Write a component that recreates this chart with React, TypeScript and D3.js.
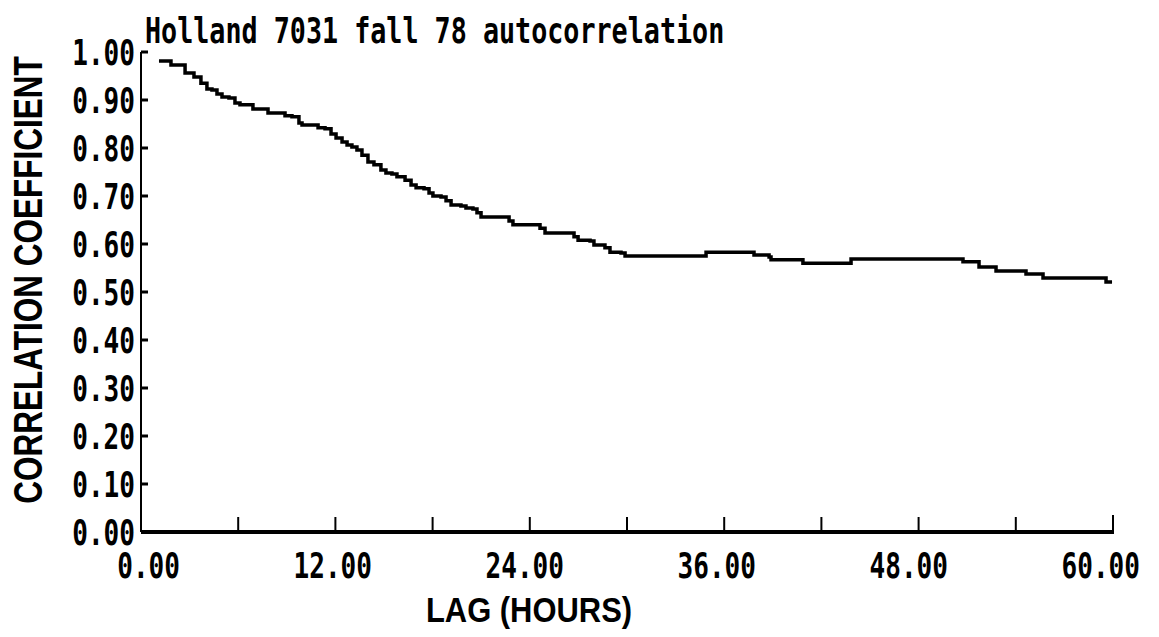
import React from "react";
import * as d3 from "d3";

const titleText = "Holland 7031 fall 78 autocorrelation";
const xAxisTitle = "LAG (HOURS)";
const yAxisTitle = "CORRELATION COEFFICIENT";

// step breakpoints of the autocorrelation curve
const lagHours = [
  1.11, 1.85, 2.72, 3.27, 3.7, 4.07, 4.38, 4.69, 5.0, 5.43, 5.8, 6.11, 6.91, 7.84,
  8.89, 9.32, 9.75, 9.94, 10.93, 11.36, 11.73, 12.04, 12.41, 12.72, 13.02, 13.33,
  13.64, 14.01, 14.38, 14.81, 15.12, 15.49, 15.8, 16.3, 16.67, 16.98, 17.47, 17.78,
  18.02, 18.52, 18.83, 19.14, 19.75, 20.06, 20.49, 20.74, 20.99, 22.72, 22.96,
  24.63, 24.94, 26.73, 26.98, 27.72, 27.96, 28.64, 28.95, 29.63, 29.88, 34.88,
  37.84, 38.77, 38.89, 40.86, 43.83, 50.74, 51.73, 52.78, 54.63, 55.68, 59.57, 59.94,
];
const correlation = [
  0.981, 0.973, 0.956, 0.948, 0.935, 0.923, 0.921, 0.9125, 0.906, 0.904, 0.894, 0.89,
  0.881, 0.873, 0.867, 0.865, 0.852, 0.848, 0.842, 0.84, 0.829, 0.821, 0.8125, 0.806,
  0.802, 0.796, 0.785, 0.771, 0.765, 0.754, 0.748, 0.746, 0.74, 0.733, 0.723, 0.717,
  0.715, 0.706, 0.7, 0.698, 0.69, 0.681, 0.679, 0.675, 0.673, 0.665, 0.656, 0.648,
  0.64, 0.633, 0.623, 0.615, 0.608, 0.606, 0.598, 0.592, 0.583, 0.581, 0.575, 0.583,
  0.577, 0.573, 0.567, 0.56, 0.569, 0.563, 0.552, 0.544, 0.5375, 0.529, 0.521, 0.521,
];

const xTickValues = [0, 6, 12, 18, 24, 30, 36, 42, 48, 54, 60];
const xLabelValues = [0, 12, 24, 36, 48, 60];
const yTickValues = [0, 0.1, 0.2, 0.3, 0.4, 0.5, 0.6, 0.7, 0.8, 0.9, 1.0];

const W = 1159;
const H = 637;
const monoFont = "'DejaVu Sans Mono', 'Liberation Mono', monospace";
const sansFont = "'Liberation Sans', Arial, sans-serif";
const CHAR = 16; // plotter character pitch in px
const MONO_ADV = 0.602; // DejaVu Sans Mono advance per em

export default function App() {
  const x = d3.scaleLinear().domain([0, 60]).range([141, 1113]);
  const y = d3.scaleLinear().domain([0, 1]).range([532, 52]);
  // label right edges (plotter text grid is slightly tighter than the tick grid)
  const xLabelEnd = d3.scaleLinear().domain([0, 60]).range([180, 1140]);

  const points: [number, number][] = lagHours.map((h, i) => [h, correlation[i]]);
  const line = d3
    .line<[number, number]>()
    .x((d) => x(d[0]))
    .y((d) => y(d[1]))
    .curve(d3.curveStepAfter);

  const fmt = d3.format(".2f");

  const tickFs = 36;
  const tickSx = (CHAR - 0.3) / (MONO_ADV * tickFs);
  const titleFs = 35;
  const titleSx = (CHAR + 0.1) / (MONO_ADV * titleFs);

  return (
    <svg
      width={W}
      height={H}
      style={{ position: "absolute", left: 0, top: 0, background: "#fff" }}
    >
      <rect x={0} y={0} width={W} height={H} fill="#fff" />
      {/* title */}
      <text
        transform={`translate(145,43) scale(${titleSx},1)`}
        fontFamily={monoFont}
        fontWeight="bold"
        fontSize={titleFs}
        fill="#000"
      >
        {titleText}
      </text>

      {/* y axis */}
      <line x1={x(0)} x2={x(0)} y1={y(1)} y2={y(0)} stroke="#000" strokeWidth={2} />
      {yTickValues.map((v) => {
        const label = fmt(v);
        return (
          <g key={"y" + v}>
            <line x1={x(0)} x2={x(0) + 7} y1={y(v)} y2={y(v)} stroke="#000" strokeWidth={3} />
            <text
              transform={`translate(135,${y(v) + 13}) scale(${tickSx},1)`}
              textAnchor="end"
              fontFamily={monoFont}
              fontWeight="bold"
              fontSize={tickFs}
              fill="#000"
            >
              {label}
            </text>
          </g>
        );
      })}

      {/* x axis */}
      <line x1={x(0)} x2={x(60) + 1} y1={y(0)} y2={y(0)} stroke="#000" strokeWidth={4} />
      {xTickValues.map((v) => (
        <line
          key={"xt" + v}
          x1={x(v)}
          x2={x(v)}
          y1={y(0)}
          y2={y(0) - (v === 60 ? 17 : 15)}
          stroke="#000"
          strokeWidth={2}
        />
      ))}
      {xLabelValues.map((v) => {
        const label = fmt(v);
        return (
          <text
            key={"xl" + v}
            transform={`translate(${xLabelEnd(v)},578) scale(${tickSx},1)`}
            textAnchor="end"
            fontFamily={monoFont}
            fontWeight="bold"
            fontSize={tickFs}
            fill="#000"
          >
            {label}
          </text>
        );
      })}

      {/* axis titles */}
      <text
        transform="translate(529,622) scale(0.884,1)"
        textAnchor="middle"
        fontFamily={sansFont}
        fontWeight="bold"
        fontSize={35}
        fill="#000"
      >
        {xAxisTitle}
      </text>
      <text
        transform="translate(42,280) rotate(-90) scale(0.788,1)"
        textAnchor="middle"
        fontFamily={sansFont}
        fontWeight="bold"
        fontSize={40}
        fill="#000"
      >
        {yAxisTitle}
      </text>

      {/* curve */}
      <path d={line(points) || ""} fill="none" stroke="#000" strokeWidth={3.5} />
    </svg>
  );
}
